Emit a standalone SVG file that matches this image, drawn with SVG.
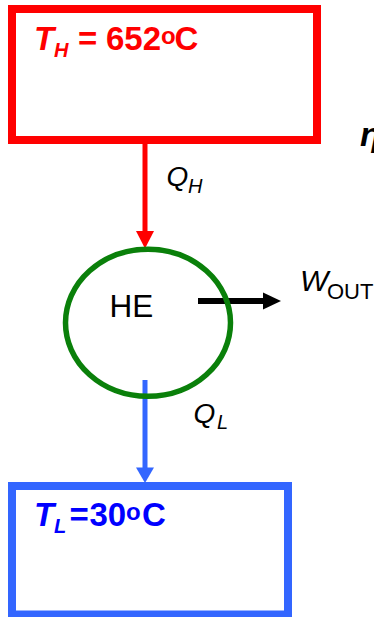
<svg xmlns="http://www.w3.org/2000/svg" width="374" height="617" viewBox="0 0 374 617">
<style>
text { font-family: "Liberation Sans", Arial, sans-serif; }
.hot { fill: #FF0000; font-weight: bold; }
.cold { fill: #0000FF; font-weight: bold; }
.lbl { fill: #000000; }
.it { font-style: italic; }
</style>
<rect width="374" height="617" fill="#FFFFFF"/>
<g id="connectors">
  <line x1="145" y1="144" x2="145" y2="233" stroke="#FF0000" stroke-width="5"/>
  <polygon points="136,231 154,231 145,248.5" fill="#FF0000"/>
  <line x1="145" y1="380" x2="145" y2="469" stroke="#3366FF" stroke-width="5"/>
  <polygon points="136,467.5 154,467.5 145,483" fill="#3366FF"/>
  <line x1="198" y1="301" x2="265" y2="301" stroke="#000000" stroke-width="6"/>
  <polygon points="263,292.5 281,301 263,309.5" fill="#000000"/>
</g>
<g id="hot-reservoir">
  <rect x="12" y="9" width="305" height="131" fill="none" stroke="#FF0000" stroke-width="8"/>
  <text class="hot" font-size="33"><tspan class="it" x="34" y="50">T</tspan><tspan class="it" x="54" y="57" font-size="20">H</tspan><tspan x="78" y="50">=</tspan><tspan x="106" y="50">652</tspan><tspan x="161" y="43.7" font-size="24">o</tspan><tspan x="174.5" y="50">C</tspan></text>
</g>
<g id="heat-engine">
  <ellipse cx="148" cy="322.75" rx="82.5" ry="73.5" fill="none" stroke="#0A800A" stroke-width="5.5"/>
  <text class="lbl" x="109.5" y="317.3" font-size="31.5">HE</text>
</g>
<g id="cold-reservoir">
  <rect x="12" y="486" width="276" height="128.5" fill="none" stroke="#3366FF" stroke-width="8"/>
  <text class="cold" font-size="33"><tspan class="it" x="34" y="526">T</tspan><tspan class="it" x="54" y="533" font-size="20">L</tspan><tspan x="69.5" y="526">=</tspan><tspan x="89.5" y="526">30</tspan><tspan x="126" y="519.5" font-size="24">o</tspan><tspan x="142" y="526">C</tspan></text>
</g>
<g id="labels">
  <text class="lbl" font-size="28"><tspan class="it" x="166.5" y="185.5">Q</tspan><tspan class="it" x="188" y="193.3" font-size="20">H</tspan></text>
  <text class="lbl" font-size="28"><tspan class="it" x="193.5" y="423.3">Q</tspan><tspan class="it" x="217" y="428.5" font-size="20">L</tspan></text>
  <text class="lbl" font-size="30"><tspan class="it" x="300" y="290.7">W</tspan><tspan x="327" y="299" font-size="22">OUT</tspan></text>
  <text class="lbl it" x="360" y="146" font-size="34" font-weight="bold">η</text>
</g>
</svg>
